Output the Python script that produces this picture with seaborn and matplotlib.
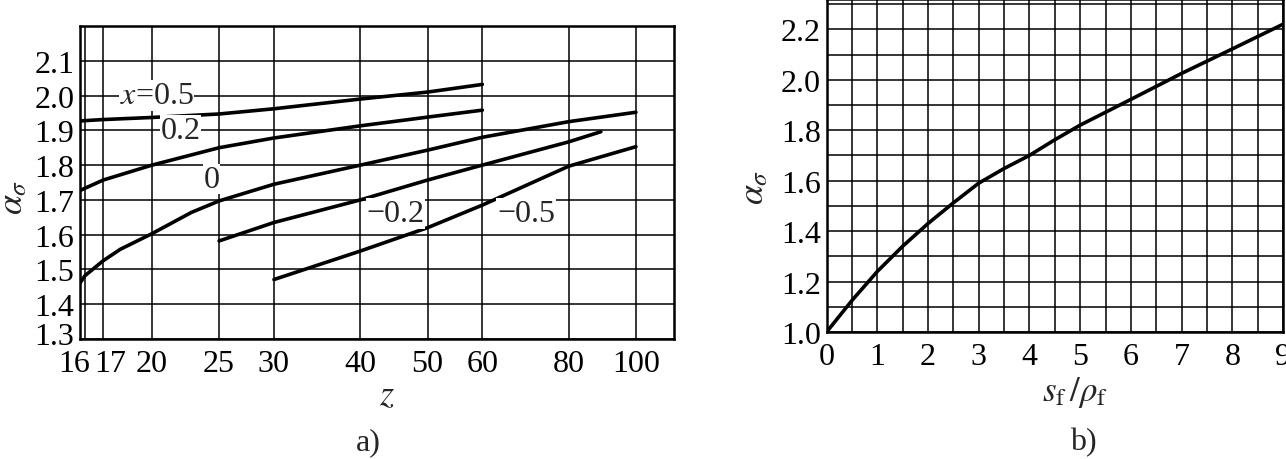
import numpy as np
import pandas as pd
import matplotlib
matplotlib.use('Agg')
import matplotlib.pyplot as plt
import matplotlib.transforms as mtransforms
from matplotlib.ticker import MultipleLocator, NullLocator, FormatStrFormatter
import seaborn as sns

# panel a) : alpha_sigma vs z (log axis), one curve per shift x
z_x05 = [15.74, 17, 20, 25, 30, 40, 50, 60]
a_x05 = [1.927, 1.931, 1.937, 1.947, 1.962, 1.99, 2.01, 2.032]
z_x02 = [15.74, 17, 20, 25, 30, 40, 50, 60]
a_x02 = [1.727, 1.757, 1.80, 1.850, 1.878, 1.913, 1.938, 1.958]
z_x0 = [15.74, 16, 17, 18, 20, 22.8, 25, 30, 40, 50, 60, 80, 100]
a_x0 = [1.461, 1.482, 1.525, 1.558, 1.603, 1.664, 1.697, 1.745, 1.80, 1.843, 1.88, 1.925, 1.952]
z_xm02 = [25, 30, 40, 50, 60, 80, 89]
a_xm02 = [1.582, 1.635, 1.70, 1.757, 1.80, 1.867, 1.896]
z_xm05 = [30, 40, 50, 60, 80, 100]
a_xm05 = [1.471, 1.553, 1.62, 1.685, 1.797, 1.853]

z_ticks = [16, 17, 20, 25, 30, 40, 50, 60, 80, 100]
a_yticks = [1.3, 1.4, 1.5, 1.6, 1.7, 1.8, 1.9, 2.0, 2.1]

# curve labels: text, z, alpha
curve_labels = [(r'$x$=0.5', 20.3, 2.0), ('0.2', 22.0, 1.9), ('0', 24.4, 1.76),
                ('\u22120.2', 44.9, 1.661), ('\u22120.5', 69.4, 1.661)]

# panel b) : alpha_sigma vs s_f/rho_f
s_rho = [0, 0.5, 1, 1.5, 2, 2.5, 3, 3.5, 4, 4.5, 5, 6, 7, 8, 9]
a_b = [1.0, 1.125, 1.24, 1.34, 1.43, 1.512, 1.59, 1.648, 1.70, 1.762, 1.82, 1.922, 2.025, 2.122, 2.22]

sns.set_style('white')
plt.rcParams['font.family'] = ['Liberation Serif', 'DejaVu Serif']
plt.rcParams['mathtext.fontset'] = 'stix'

W, H = 1286, 460
fig = plt.figure(figsize=(W / 100, H / 100), dpi=100)
ax1 = fig.add_axes([80 / W, 1 - 340 / H, (674 - 80) / W, (340 - 27) / H])
ax2 = fig.add_axes([826.6 / W, 1 - 333 / H, (1283 - 826.6) / W, 333 / H])

frames = []
for name, zs, als in [('0.5', z_x05, a_x05), ('0.2', z_x02, a_x02), ('0', z_x0, a_x0),
                      ('-0.2', z_xm02, a_xm02), ('-0.5', z_xm05, a_xm05)]:
    frames.append(pd.DataFrame({'z': zs, 'alpha': als, 'x': name}))
df = pd.concat(frames, ignore_index=True)

sns.lineplot(data=df, x='z', y='alpha', hue='x', palette=['black'] * 5,
             estimator=None, lw=2.6, legend=False, ax=ax1, zorder=3)
ax1.set_xscale('log')
ax1.set_xlim(15.74, 113.5)
ax1.set_ylim(1.3, 2.2)
ax1.set_xticks(z_ticks)
ax1.set_xticklabels([str(t) for t in z_ticks])
ax1.xaxis.set_minor_locator(NullLocator())
ax1.set_yticks(a_yticks)
ax1.set_yticklabels([f'{v:.1f}' for v in a_yticks])
ax1.grid(True, which='major', color='black', lw=1.1)
ax1.set_xlabel('')
ax1.set_ylabel('')

sns.lineplot(x=s_rho, y=a_b, color='black', lw=2.6, ax=ax2, zorder=3)
ax2.set_xlim(0, 9)
ax2.set_ylim(1.0, 2.32)
ax2.xaxis.set_major_locator(MultipleLocator(1))
ax2.xaxis.set_minor_locator(MultipleLocator(0.5))
ax2.yaxis.set_major_locator(MultipleLocator(0.2))
ax2.yaxis.set_minor_locator(MultipleLocator(0.1))
ax2.yaxis.set_major_formatter(FormatStrFormatter('%.1f'))
ax2.grid(True, which='both', color='black', lw=1.1)

for ax in (ax1, ax2):
    ax.tick_params(which='both', length=0, labelsize=23, colors='black')
    ax.tick_params(axis='y', pad=4)
    ax.tick_params(axis='x', pad=7)
    for sp in ax.spines.values():
        sp.set_color('black')
        sp.set_linewidth(1.8)
    ax.set_axisbelow(True)

# nudge the crowded 16 / 17 labels apart like in the original, and lift 1.3
lbls = ax1.get_xticklabels()
lbls[0].set_transform(lbls[0].get_transform() + mtransforms.ScaledTranslation(-0.11, 0, fig.dpi_scale_trans))
lbls[1].set_transform(lbls[1].get_transform() + mtransforms.ScaledTranslation(0.07, 0, fig.dpi_scale_trans))
ylb = ax1.get_yticklabels()
ylb[0].set_transform(ylb[0].get_transform() + mtransforms.ScaledTranslation(0, 0.06, fig.dpi_scale_trans))

for txt, zz, aa in curve_labels:
    ax1.text(zz, aa, txt, fontsize=23, ha='center', va='center', zorder=4,
             bbox=dict(facecolor='white', edgecolor='none', pad=0.5))

fig.text(14 / W, 1 - 197 / H, r'$\alpha_{\sigma}$', rotation=90, fontsize=26, ha='center', va='center')
fig.text(755 / W, 1 - 187 / H, r'$\alpha_{\sigma}$', rotation=90, fontsize=26, ha='center', va='center')
fig.text(387 / W, 1 - 397 / H, r'$z$', fontsize=26, ha='center', va='center')
fig.text(1075 / W, 1 - 393 / H, r'$s_{\mathrm{f}}\,/\rho_{\mathrm{f}}$', fontsize=25, ha='center', va='center')
fig.text(368 / W, 1 - 443 / H, 'a)', fontsize=23, ha='center', va='center')
fig.text(1083 / W, 1 - 443 / H, 'b)', fontsize=23, ha='center', va='center')

fig.savefig('out.png', dpi=100)
